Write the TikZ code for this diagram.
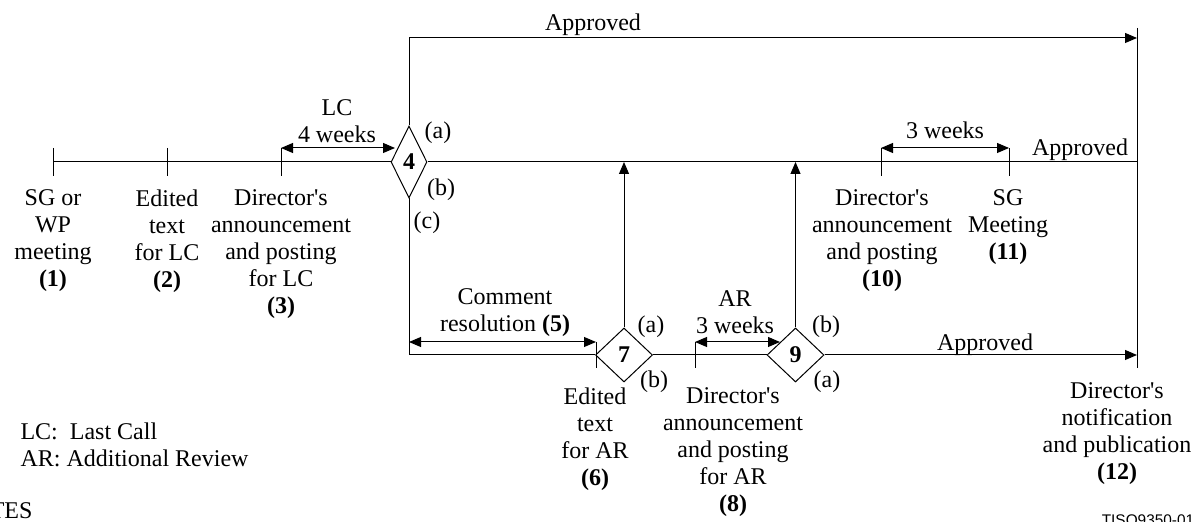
\documentclass[tikz,border=0pt]{standalone}
\usepackage{fontspec}
\setmainfont{Liberation Serif}
\newfontfamily\tisofont{Liberation Sans}
\usetikzlibrary{shapes.geometric,arrows.meta}
\newcommand\aps{\textquotesingle}
\begin{document}
\begin{tikzpicture}[x=0.5pt,y=-0.5pt,line width=0.5pt,
  lbl/.style={align=center,inner sep=0pt,anchor=north,font=\fontsize{12}{13.5}\selectfont},
  sub/.style={inner sep=0pt,font=\fontsize{12}{13.5}\selectfont},
  dia/.style={draw,diamond,inner sep=0pt,font=\fontsize{12}{13.5}\selectfont\bfseries},
  arr/.style={-{Triangle[length=6pt,width=5pt]}},
  dimarr/.style={{Triangle[length=6pt,width=5pt]}-{Triangle[length=6pt,width=5pt]}}]
\useasboundingbox (0,0) rectangle (1204,522);
\clip (0,0) rectangle (1204,522);

% decision diamonds
\node[dia,minimum width=18pt,minimum height=36pt] (d4) at (409,162) {4};
\node[dia,minimum width=28.5pt,minimum height=27pt] (d7) at (624,355) {7};
\node[dia,minimum width=28.5pt,minimum height=27pt] (d9) at (795.5,355) {9};

% timeline points
\coordinate (t1) at (53,162);
\coordinate (t2) at (167,162);
\coordinate (t3) at (281,162);
\coordinate (t10) at (881,162);
\coordinate (t11) at (1009,162);
\coordinate (re) at (1137,162);
\coordinate (rtop) at (1137,28);
\coordinate (rbot) at (1137,368);
\coordinate (atop) at (1137,38);
\coordinate (abot) at (1137,355);
\coordinate (t6) at (596,355);
\coordinate (t8) at (695,355);
\coordinate (lcend) at (395,148);
\coordinate (arend) at (780,342);

% main lines
\draw (t1) -- (d4.west);
\draw (d4.east) -- (re);
\draw (rtop) -- (rbot);
\draw[arr] (d4.north) |- (atop);
\draw (d4.south) |- (d7.west);
\draw (d7.east) -- (d9.west);
\draw[arr] (d9.east) -- (abot);
\draw[arr] (d7.north) -- (d7.north |- re);
\draw[arr] (d9.north) -- (d9.north |- re);

% ticks
\foreach \t in {t1,t2,t3,t10,t11}
  \draw ([yshift=7pt]\t) -- ([yshift=-7pt]\t);
\foreach \t in {t6,t8}
  \draw ([yshift=6.5pt]\t) -- ([yshift=-6.5pt]\t);

% dimension arrows
\draw[dimarr] ([yshift=7pt]t3) -- (lcend);
\draw[dimarr] ([yshift=7pt]t10) -- ([yshift=7pt]t11);
\draw[dimarr] (d4.south |- arend) -- ([yshift=6.5pt]t6);
\draw[dimarr] ([yshift=6.5pt]t8) -- (arend);

% labels
\node[lbl] (l1) at (53,189) {SG or\\WP\\meeting\\\textbf{(1)}};
\node[lbl] (l2) at (167,189) {Edited\\text\\for LC\\\textbf{(2)}};
\node[lbl] (l3) at (281,189) {Director\aps s\\announcement\\and posting\\for LC\\\textbf{(3)}};
\node[lbl] (l10) at (882,189) {Director\aps s\\announcement\\and posting\\\textbf{(10)}};
\node[lbl] (l11) at (1008,189) {SG\\Meeting\\\textbf{(11)}};
\node[lbl] (l6) at (595,387) {Edited\\text\\for AR\\\textbf{(6)}};
\node[lbl] (l8) at (733,387) {Director\aps s\\announcement\\and posting\\for AR\\\textbf{(8)}};
\node[lbl] (l12) at (1117,382) {Director\aps s\\notification\\and publication\\\textbf{(12)}};

\node[lbl] (lc) at (337,99) {LC\\4 weeks};
\node[lbl] (w3) at (945,121) {3 weeks};
\node[lbl] (cr) at (505,288) {Comment\\resolution \textbf{(5)}};
\node[lbl] (ar) at (735,290) {AR\\3 weeks};
\node[lbl] (ap1) at (593,13) {Approved};
\node[lbl] (ap2) at (1080,138) {Approved};
\node[lbl] (ap3) at (985,333) {Approved};

\node[sub] (d4a) at (438,133) {(a)};
\node[sub] (d4b) at (441,190) {(b)};
\node[sub] (d4c) at (427,223) {(c)};
\node[sub] (d7a) at (651,327) {(a)};
\node[sub] (d7b) at (654,382) {(b)};
\node[sub] (d9b) at (826,327) {(b)};
\node[sub] (d9a) at (827,382) {(a)};

\node[lbl,anchor=north west,align=left] (legend) at (20,422) {LC:\ \ Last Call\\AR: Additional Review};
\node[inner sep=0pt,anchor=base east,font=\fontsize{12}{13.5}\selectfont] (notes) at (33,519) {NOTES};
\node[inner sep=0pt,anchor=base,font=\tisofont\fontsize{7.7}{9}\selectfont] (tiso) at (1148,526) {TISO9350-01};
\end{tikzpicture}
\end{document}
